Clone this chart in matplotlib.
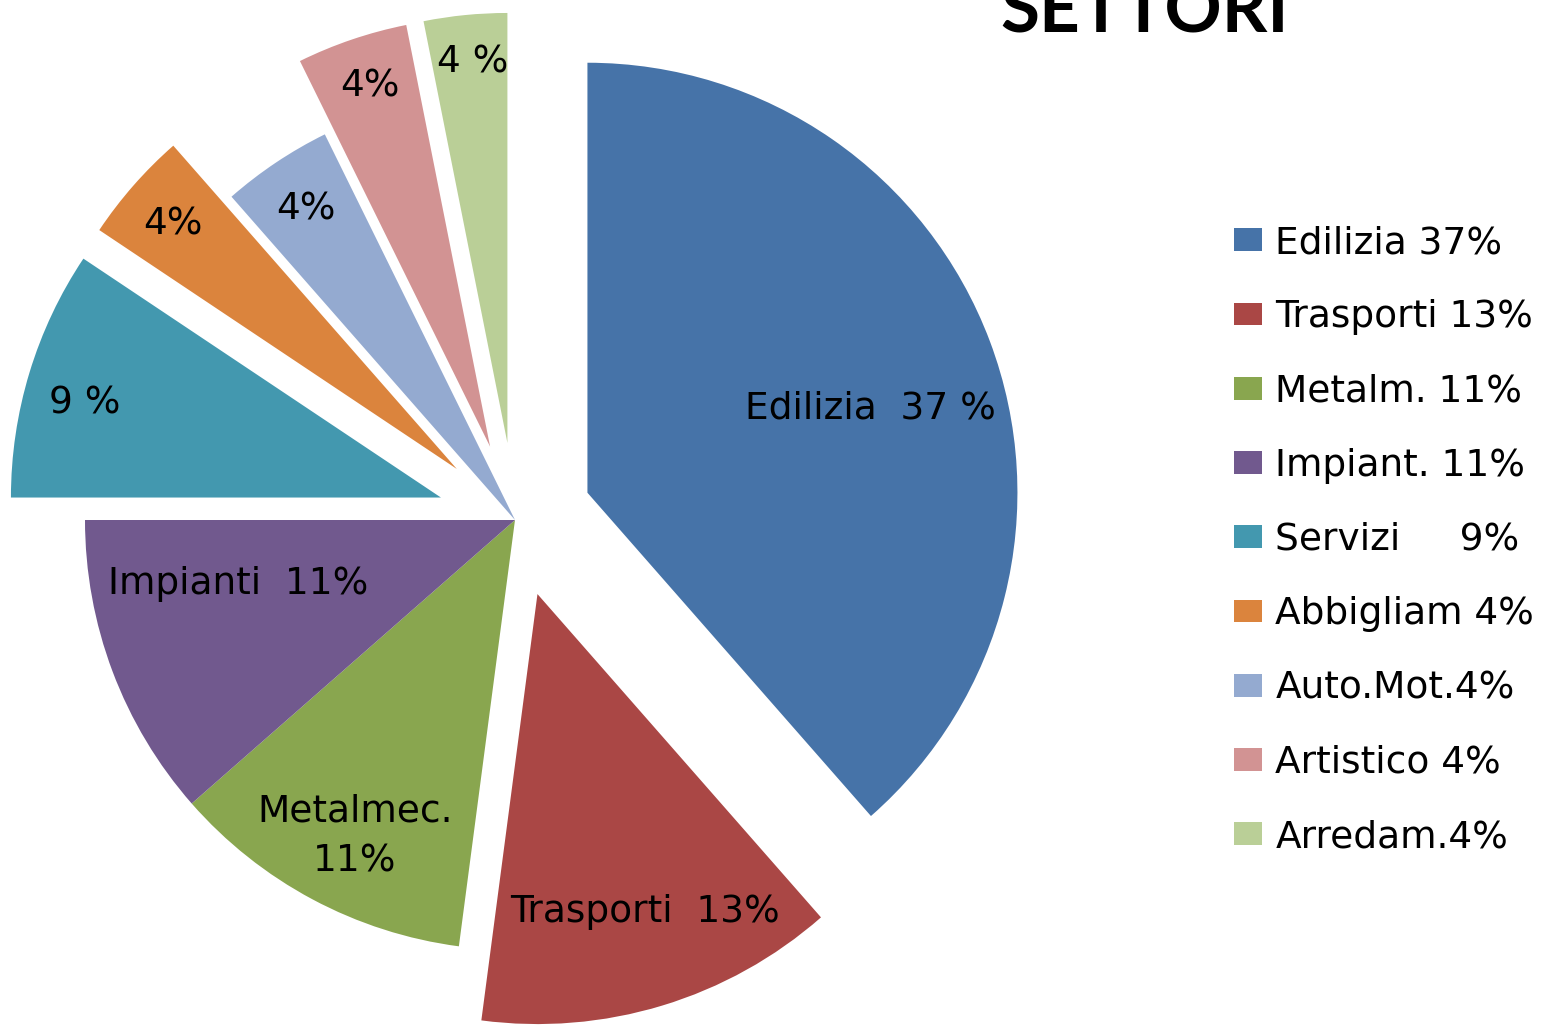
"""
Settori: exploded pie chart with in-slice labels and side legend
"""
import matplotlib.pyplot as plt
import numpy as np

plt.rcParams["font.family"] = ["DejaVu Sans"]

# -----------------------------------------------------------------------------
# Data
# -----------------------------------------------------------------------------
sectors = ["Edilizia", "Trasporti", "Metalm.", "Impiant.", "Servizi",
           "Abbigliam", "Auto.Mot.", "Artistico", "Arredam."]
values = [37, 13, 11, 11, 9, 4, 4, 4, 3]

legend_labels = ["Edilizia 37%", "Trasporti 13%", "Metalm. 11%", "Impiant. 11%",
                 "Servizi     9%", "Abbigliam 4%", "Auto.Mot.4%",
                 "Artistico 4%", "Arredam.4%"]
slice_labels = ["Edilizia  37 %", "Trasporti  13%", "Metalmec.\n11%",
                "Impianti  11%", "9 %", "4%", "4%", "4%", "4 %"]

colors = ["#4673A8", "#AA4745", "#89A64F", "#71598E", "#4398AF",
          "#DB843D", "#94AAD0", "#D29393", "#BACF97"]
explode = [0.18, 0.18, 0, 0, 0.18, 0.18, 0, 0.18, 0.18]

# label positions (pie-radius units, relative to pie centre)
label_pos = [(0.826, 0.260), (0.302, -0.912), (-0.372, -0.737),
             (-0.644, -0.149), (-1.0, 0.270), (-0.795, 0.688),
             (-0.486, 0.723), (-0.337, 1.007), (-0.098, 1.065)]

# -----------------------------------------------------------------------------
# Figure
# -----------------------------------------------------------------------------
W, H = 1544, 1026
R_PX = 430.0
CX, CY = 515, 520

fig = plt.figure(figsize=(W / 100, H / 100), dpi=100)
ax = fig.add_axes([0, 0, 1, 1])

wedges, _ = ax.pie(values, colors=colors, explode=explode, radius=1,
                   startangle=90, counterclock=False,
                   wedgeprops=dict(linewidth=0))

ax.set_xlim(-CX / R_PX, (W - CX) / R_PX)
ax.set_ylim(-(H - CY) / R_PX, CY / R_PX)
ax.set_aspect("auto")
ax.axis("off")

for txt, (x, y) in zip(slice_labels, label_pos):
    ax.text(x, y, txt, ha="center", va="center", fontsize=27,
            color="black", linespacing=1.5)

# title (cut off by top edge as in original)
ax.text((1145 - CX) / R_PX, (CY - 33) / R_PX, "SETTORI", ha="center",
        va="baseline", fontsize=51, fontweight="bold",
        family=["Lato", "DejaVu Sans"])

leg = fig.legend(wedges, legend_labels, loc="upper left",
                 bbox_to_anchor=(1234 / W, 1 - 225 / H),
                 frameon=False, fontsize=27, handlelength=0.75,
                 handleheight=0.55, handletextpad=0.35, labelspacing=1.02,
                 borderpad=0, borderaxespad=0)

fig.savefig("out.png", dpi=100)
